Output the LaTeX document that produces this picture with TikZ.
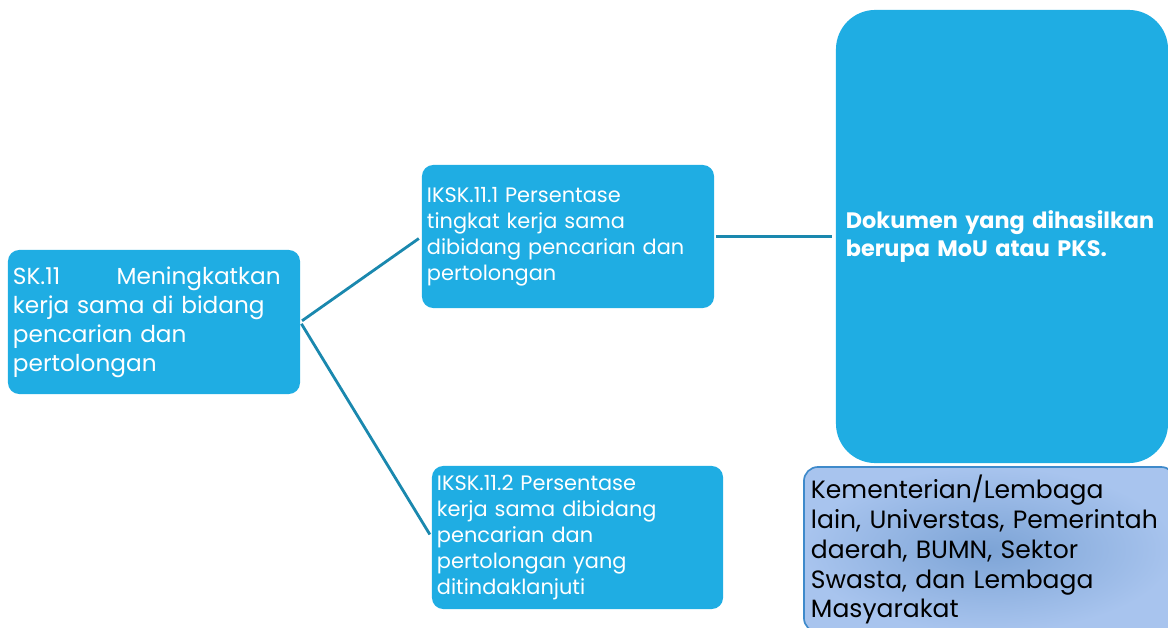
\documentclass[tikz,border=0pt]{standalone}
\usepackage{fontspec}
\setmainfont{Poppins}
\definecolor{boxblue}{HTML}{1FADE3}
\definecolor{linkblue}{HTML}{1A88AE}
\definecolor{paleblue}{HTML}{A8C4EE}
\definecolor{midblue}{HTML}{7DA4D6}
\definecolor{edgeblue}{HTML}{3E8ACB}
\begin{document}
\begin{tikzpicture}[
    x=0.025cm, y=-0.025cm,
    target/.style={rectangle, rounded corners=8pt, fill=boxblue, text=white, align=left, inner xsep=0.125cm, inner ysep=0pt},
    link/.style={draw=linkblue, line width=2pt, shorten <=1.5pt, shorten >=2.5pt}
]
\useasboundingbox (0,0) rectangle (1168,628);
\clip (0,0) rectangle (1168,628);

% Boxes
\node[target, minimum width=7.3cm, minimum height=3.6cm, text width=7.05cm,
    font=\fontsize{16.5}{20.6}\selectfont] (sk) at (154,322) {
    SK.11\hspace{2.1em} Meningkatkan\\
    kerja sama di bidang\\
    pencarian dan\\
    pertolongan
};

\node[target, minimum width=7.3cm, minimum height=3.575cm, text width=7.05cm,
    font=\fontsize{14.85}{18.5}\selectfont] (iksk1) at (568,236.5) {
    IKSK.11.1 Persentase\\
    tingkat kerja sama\\
    dibidang pencarian dan\\
    pertolongan
};

\node[target, minimum width=7.275cm, minimum height=3.575cm, text width=7.025cm,
    font=\fontsize{14.85}{18.5}\selectfont] (iksk2) at (577.5,537.5) {
    IKSK.11.2 Persentase\\
    kerja sama dibidang\\
    pencarian dan\\
    pertolongan yang\\
    ditindaklanjuti
};

\node[target, rounded corners=28pt, minimum width=8.3cm, minimum height=11.325cm,
    inner xsep=0.25cm, text width=7.8cm,
    font=\fontsize{15.9}{20}\selectfont\bfseries] (dok) at (1002,236.5) {
    Dokumen yang dihasilkan\\
    berupa MoU atau PKS.
};

\node[rectangle, rounded corners=10pt, draw=edgeblue, line width=1.2pt,
    inner color=midblue, outer color=paleblue, align=left,
    inner xsep=0.175cm, inner ysep=0pt, minimum width=9.275cm, minimum height=4.125cm,
    text width=8.925cm, font=\fontsize{17.8}{21.3}\selectfont] (lembaga) at (989.5,549.5) {
    Kementerian/Lembaga\\
    lain, Universtas, Pemerintah\\
    daerah, BUMN, Sektor\\
    Swasta, dan Lembaga\\
    Masyarakat
};

% Connectors
\draw[link] (sk.east) -- (iksk1.west);
\draw[link] (sk.east) -- (iksk2.west);
\draw[link] (iksk1.east) -- (dok.west);

\end{tikzpicture}
\end{document}
